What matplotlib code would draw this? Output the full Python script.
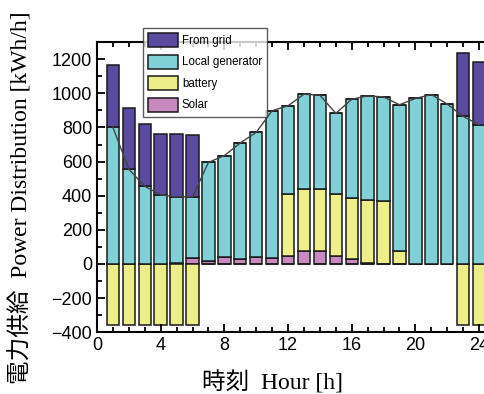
import numpy as np
import matplotlib.pyplot as plt
from matplotlib.ticker import MultipleLocator

hours = np.arange(1, 25)
solar = [0, 0, 0, 0, 3, 33, 18, 43, 29, 42, 37, 47, 78, 78, 47, 29, 5, 0, 0, 0, 0, 0, 0, 0]
battery = [-360, -360, -360, -360, -360, -360, 0, 0, 0, 0, 0, 365, 363, 363, 365, 360, 370, 371, 78, 0, 0, 0, -360, -360]
local = [800, 555, 455, 405, 390, 360, 577, 592, 680, 729, 861, 515, 554, 548, 471, 576, 610, 608, 855, 970, 993, 937, 865, 815]
grid = [365, 360, 367, 359, 370, 365, 0, 0, 0, 0, 0, 0, 0, 0, 0, 0, 0, 0, 0, 0, 0, 0, 369, 367]

c_grid = '#5a4aa0'
c_local = '#80d0d8'
c_batt = '#eeee88'
c_solar = '#c888c0'

plt.rcParams['font.family'] = ['Liberation Sans', 'Noto Sans CJK JP']

fig = plt.figure(figsize=(4.85, 3.94), dpi=100)
ax = fig.add_axes([0.2, 0.157, 0.8075, 0.736])

solar = np.array(solar)
battery = np.array(battery)
local = np.array(local)
grid = np.array(grid)

pos_batt = np.clip(battery, 0, None)
neg_batt = np.clip(battery, None, 0)

w = 0.78
kw = dict(width=w, edgecolor='#1a1a1a', linewidth=1.1)
ax.bar(hours, solar, color=c_solar, label='Solar', **kw)
ax.bar(hours, pos_batt, bottom=solar, color=c_batt, label='battery', **kw)
ax.bar(hours, neg_batt, color=c_batt, **kw)
base = solar + pos_batt
ax.bar(hours, local, bottom=base, color=c_local, label='Local generator', **kw)
ax.bar(hours, grid, bottom=base + local, color=c_grid, label='From grid', **kw)

# supply line without grid
ax.plot(hours, base + local, color='#444444', lw=1.0)

ax.set_xlim(0, 24.6)
ax.set_ylim(-400, 1300)
ax.set_xticks([0, 4, 8, 12, 16, 20, 24])
ax.set_yticks(np.arange(-400, 1201, 200))
ax.xaxis.set_minor_locator(MultipleLocator(1))
ax.yaxis.set_minor_locator(MultipleLocator(100))
ax.tick_params(which='both', direction='in', top=True, right=False, width=1.3)
ax.tick_params(which='major', length=6, labelsize=13)
ax.tick_params(which='minor', length=3.5)
for s in ax.spines.values():
    s.set_linewidth(1.5)

lab_font = ['Liberation Serif', 'Noto Sans CJK JP']
ax.set_xlabel('時刻  Hour [h]', family=lab_font, fontsize=17)
ax.xaxis.set_label_coords(0.447, -0.134)
ax.set_ylabel('電力供給  Power Distribution [kWh/h]', family=lab_font, fontsize=17)
ax.yaxis.set_label_coords(-0.165, 0.462)

handles, labels = ax.get_legend_handles_labels()
order = [3, 2, 1, 0]
leg = fig.legend([handles[i] for i in order], [labels[i] for i in order],
                 loc='upper left', bbox_to_anchor=(137 / 485, 1 - 22 / 394),
                 fontsize=8.3, handlelength=2.6, handleheight=1.5, labelspacing=0.65,
                 frameon=True, fancybox=False, edgecolor='#333333', borderpad=0.45,
                 handletextpad=0.35)
leg.get_frame().set_linewidth(1.0)

fig.savefig('out.png', dpi=100)
